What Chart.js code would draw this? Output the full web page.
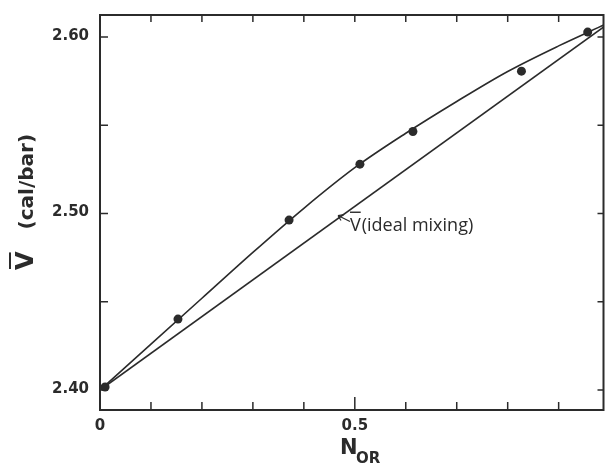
<!DOCTYPE html>
<html>
<head>
<meta charset="utf-8">
<script src="https://cdn.jsdelivr.net/npm/chart.js@4"></script>
<style>
html, body { margin: 0; padding: 0; background: #fff; }
#wrap { width: 608px; height: 468px; }
</style>
</head>
<body>
<div id="wrap"><canvas id="c"></canvas></div>
<script>
// measured points: mole fraction N_OR and molar volume (cal/bar)
const measuredN = [0.010, 0.153, 0.371, 0.510, 0.614, 0.827, 0.957];
const measuredV = [2.4017, 2.4402, 2.4963, 2.528, 2.5465, 2.5807, 2.6028];

// smooth curve drawn through the data
const curveN = [0, 0.1, 0.2, 0.3, 0.4, 0.5, 0.6, 0.7, 0.8, 0.9, 0.99];
const curveV = [2.400, 2.426, 2.452, 2.478, 2.503, 2.526, 2.5455, 2.5635, 2.5805, 2.595, 2.607];

// ideal mixing line
const idealN = [0, 0.99];
const idealV = [2.400, 2.606];

// ticks
const xTicks = [0, 0.1, 0.2, 0.3, 0.4, 0.5, 0.6, 0.7, 0.8, 0.9];
const xTickLabels = ['0', '', '', '', '', '0.5', '', '', '', ''];
const yTicks = [2.40, 2.45, 2.50, 2.55, 2.60];
const yTickLabels = ['2.40', '', '2.50', '', '2.60'];

const ink = '#2b2b2b';

function pts(xs, ys) {
  return xs.map((x, i) => ({ x: x, y: ys[i] }));
}

const decor = {
  id: 'decor',
  afterDraw(chart) {
    const ctx = chart.ctx;
    const a = chart.chartArea;
    const sx = chart.scales.x, sy = chart.scales.y;
    ctx.save();
    ctx.strokeStyle = ink;
    ctx.fillStyle = ink;
    ctx.lineWidth = 2;
    ctx.strokeRect(a.left, a.top, a.right - a.left, a.bottom - a.top);

    // inward ticks
    ctx.lineWidth = 1.5;
    xTicks.forEach((v, i) => {
      const px = sx.getPixelForValue(v);
      const len = v === 0.5 ? 13 : 8;
      ctx.beginPath();
      ctx.moveTo(px, a.bottom); ctx.lineTo(px, a.bottom - len);
      ctx.moveTo(px, a.top); ctx.lineTo(px, a.top + 7);
      ctx.stroke();
    });
    yTicks.forEach(v => {
      const py = sy.getPixelForValue(v);
      ctx.beginPath();
      ctx.moveTo(a.left, py); ctx.lineTo(a.left + 8, py);
      ctx.moveTo(a.right, py); ctx.lineTo(a.right - 6, py);
      ctx.stroke();
    });

    // tick labels
    ctx.font = 'bold 15px "DejaVu Sans"';
    ctx.textAlign = 'right';
    ctx.textBaseline = 'middle';
    yTicks.forEach((v, i) => {
      if (yTickLabels[i]) ctx.fillText(yTickLabels[i], a.left - 11, sy.getPixelForValue(v) - 1);
    });
    ctx.textAlign = 'center';
    ctx.textBaseline = 'top';
    xTicks.forEach((v, i) => {
      if (xTickLabels[i]) ctx.fillText(xTickLabels[i], sx.getPixelForValue(v), a.bottom + 9);
    });

    // x title N_OR
    ctx.textAlign = 'left';
    ctx.textBaseline = 'alphabetic';
    ctx.font = 'bold 21px "DejaVu Sans"';
    ctx.fillText('N', 340, 454);
    ctx.font = 'bold 15px "DejaVu Sans"';
    ctx.fillText('OR', 356, 463);

    // y title
    ctx.save();
    ctx.translate(33, 270);
    ctx.rotate(-Math.PI / 2);
    ctx.textAlign = 'left';
    ctx.font = 'bold 24px "DejaVu Sans"';
    ctx.fillText('V', 0, 0);
    const vw = ctx.measureText('V').width;
    ctx.fillRect(1, -24, vw - 2, 2);
    ctx.font = 'bold 20px "DejaVu Sans"';
    ctx.fillText('(cal/bar)', vw + 22, 0);
    ctx.restore();

    // annotation on the ideal line
    const tipX = sx.getPixelForValue(0.467);
    const tipY = sy.getPixelForValue(idealV[0] + (idealV[1] - idealV[0]) * 0.467 / idealN[1]) - 3;
    ctx.lineWidth = 1.2;
    ctx.beginPath();
    ctx.moveTo(tipX + 12, tipY + 6); ctx.lineTo(tipX, tipY);
    ctx.moveTo(tipX, tipY); ctx.lineTo(tipX + 6, tipY - 1);
    ctx.moveTo(tipX, tipY); ctx.lineTo(tipX + 3, tipY + 5);
    ctx.stroke();
    ctx.font = '18px "Open Sans"';
    ctx.textBaseline = 'alphabetic';
    const tx = tipX + 12, ty = tipY + 15;
    ctx.fillText('V', tx, ty);
    const w2 = ctx.measureText('V').width;
    ctx.fillRect(tx, ty - 19, w2, 1.4);
    ctx.fillText('(ideal mixing)', tx + w2 + 1, ty);
    ctx.restore();
  }
};

new Chart(document.getElementById('c'), {
  type: 'scatter',
  data: {
    datasets: [
      {
        label: 'measured',
        data: pts(measuredN, measuredV),
        showLine: false,
        pointRadius: 4.5,
        pointBackgroundColor: ink,
        pointBorderColor: ink,
        pointBorderWidth: 0
      },
      {
        label: 'fit',
        data: pts(curveN, curveV),
        showLine: true,
        pointRadius: 0,
        borderColor: ink,
        borderWidth: 1.6,
        cubicInterpolationMode: 'monotone'
      },
      {
        label: 'ideal mixing',
        data: pts(idealN, idealV),
        showLine: true,
        pointRadius: 0,
        borderColor: ink,
        borderWidth: 1.6
      }
    ]
  },
  options: {
    responsive: true,
    maintainAspectRatio: false,
    animation: false,
    layout: { padding: { top: 15, right: 4, left: 0, bottom: 0 } },
    plugins: { legend: { display: false }, tooltip: { enabled: false } },
    scales: {
      x: {
        type: 'linear', min: 0, max: 0.988,
        ticks: { display: false },
        grid: { display: false },
        border: { display: false },
        afterFit: s => { s.height = 58; }
      },
      y: {
        type: 'linear', min: 2.3887, max: 2.6125,
        ticks: { display: false },
        grid: { display: false },
        border: { display: false },
        afterFit: s => { s.width = 100; }
      }
    }
  },
  plugins: [decor]
});
</script>
</body>
</html>
